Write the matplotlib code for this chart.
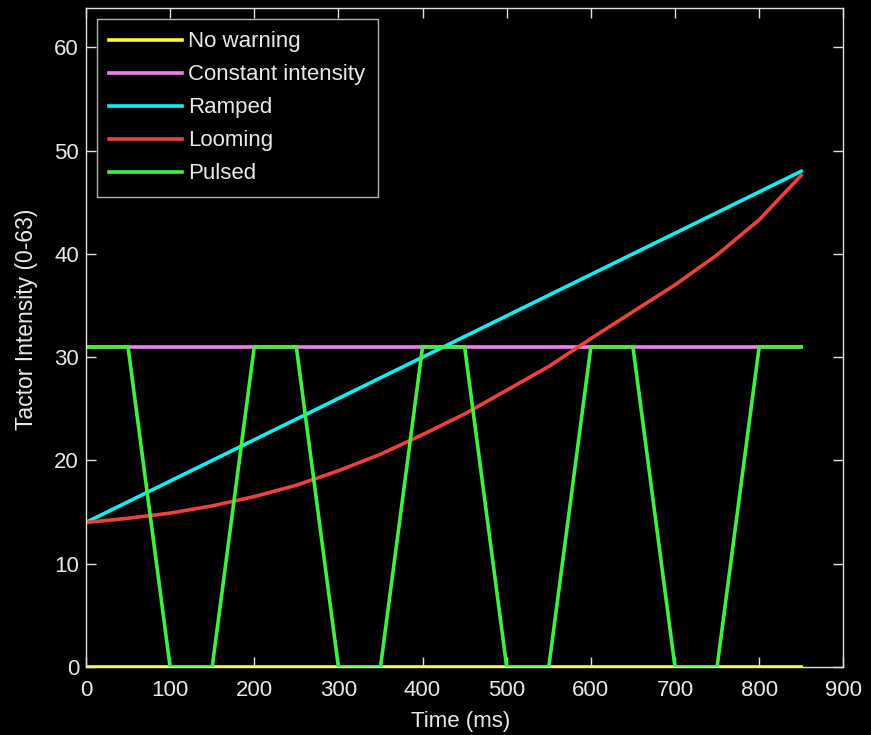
import numpy as np
import matplotlib
matplotlib.use('Agg')
import matplotlib.pyplot as plt

plt.rcParams['font.family'] = ['Liberation Sans', 'DejaVu Sans']

# time axis (ms)
t = [0, 50, 100, 150, 200, 250, 300, 350, 400, 450, 500, 550, 600, 650, 700, 750, 800, 850]

no_warning = [0] * len(t)
constant = [31] * len(t)
ramped_t = [0, 850]
ramped = [14, 48]
looming = [14, 14.4, 14.9, 15.6, 16.5, 17.6, 19.0, 20.6, 22.5, 24.5, 26.8, 29.1,
           31.8, 34.4, 37.0, 39.9, 43.3, 47.6]
pulsed = [31, 31, 0, 0, 31, 31, 0, 0, 31, 31, 0, 0, 31, 31, 0, 0, 31, 31]

fig = plt.figure(figsize=(8.71, 7.35), dpi=100, facecolor='black')
ax = fig.add_axes([0.0987, 0.0925, 0.8695, 0.8965], facecolor='black')

lw = 2.6
ax.plot(t, no_warning, color='#ffff30', lw=lw, label='No warning')
ax.plot(t, constant, color='#f080f0', lw=lw, label='Constant intensity')
ax.plot(ramped_t, ramped, color='#10f0f0', lw=lw, label='Ramped')
ax.plot(t, looming, color='#f04040', lw=lw, label='Looming')
ax.plot(t, pulsed, color='#40f040', lw=lw, label='Pulsed')

ax.set_xlim(0, 900)
ax.set_ylim(0, 63.8)
ax.set_xticks(np.arange(0, 901, 100))
ax.set_yticks(np.arange(0, 61, 10))
for s in ax.spines.values():
    s.set_color('#e0e0e0')
    s.set_linewidth(1.0)
ax.tick_params(direction='in', colors='#e0e0e0', labelcolor='#e8e8e8',
               labelsize=16, length=7, width=1, top=True, right=True, pad=5)
ax.tick_params(axis='x', pad=9)
ax.set_xlabel('Time (ms)', color='#e8e8e8', fontsize=16)
ax.set_ylabel('Tactor Intensity (0-63)', color='#e8e8e8', fontsize=16.5)
ax.xaxis.set_label_coords(0.495, -0.067)
ax.yaxis.set_label_coords(-0.063, 0.527)

leg = ax.legend(loc='upper left', fontsize=16, handlelength=3.25, handletextpad=0.3,
                labelspacing=0.54, borderaxespad=0.5, frameon=True, fancybox=False,
                facecolor='black', edgecolor='#e0e0e0', borderpad=0.55)
leg.get_frame().set_linewidth(1.0)
for txt in leg.get_texts():
    txt.set_color('#e8e8e8')

fig.savefig('out.png', dpi=100, facecolor='black')
